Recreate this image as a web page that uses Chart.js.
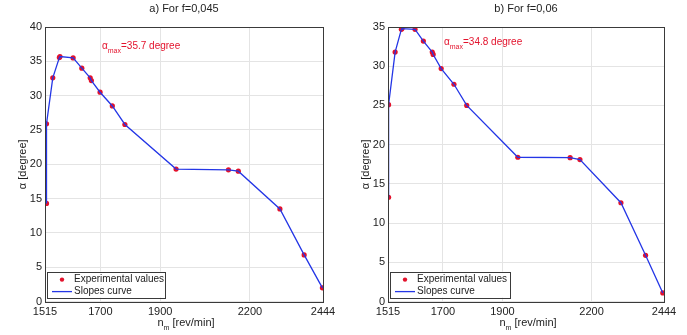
<!DOCTYPE html>
<html><head><meta charset="utf-8">
<script src="https://cdn.jsdelivr.net/npm/chart.js@4.4.1/dist/chart.umd.min.js"></script>
<style>
html,body{margin:0;padding:0;background:#fff;}
#wrap{position:relative;width:687px;height:335px;overflow:hidden;}
.box{position:absolute;top:0;height:335px;}
</style></head><body>
<div id="wrap">
<div class="box" style="left:0;width:343px"><canvas id="c1" width="343" height="335"></canvas></div>
<div class="box" style="left:343px;width:344px"><canvas id="c2" width="344" height="335"></canvas></div>
</div>
<script>
// ---- data ----
const xTicks = [1515, 1700, 1900, 2200, 2444];
const yTicksA = [0, 5, 10, 15, 20, 25, 30, 35, 40];
const yTicksB = [0, 5, 10, 15, 20, 25, 30, 35];
const titleA = 'a) For f=0,045';
const titleB = 'b) For f=0,06';
const seriesNames = ['Experimental values', 'Slopes curve'];
const yTitle = 'α [degree]';
const xTitleMain = 'n';
const xTitleSub = 'm';
const xTitleRest = ' [rev/min]';
const maxA = '=35.7 degree';
const maxB = '=34.8 degree';
const speedA = [1520, 1520, 1541, 1563, 1565, 1609, 1638, 1666, 1670, 1699, 1740, 1782, 1953, 2128, 2161, 2300, 2381, 2442];
const alphaA = [14.3, 25.9, 32.6, 35.55, 35.7, 35.5, 34.0, 32.6, 32.2, 30.5, 28.5, 25.8, 19.3, 19.2, 19.0, 13.5, 6.8, 2.0];
const speedB = [1517, 1517, 1539, 1560, 1562, 1606, 1634, 1664, 1667, 1694, 1737, 1780, 1952, 2128, 2161, 2299, 2382, 2440];
const alphaB = [13.3, 25.1, 31.8, 34.7, 34.8, 34.7, 33.2, 31.8, 31.5, 29.7, 27.7, 25.0, 18.4, 18.35, 18.1, 12.6, 5.9, 1.1];

const FONT = "'Liberation Sans', Arial, sans-serif";
const RED = '#e3122c';
const BLUE = '#2436e6';

function pts(xs, ys) { return xs.map((x, i) => ({x: x, y: ys[i]})); }

const decor = {
  id: 'decor',
  afterDraw(chart, args, o) {
    const ctx = chart.ctx, a = chart.chartArea;
    ctx.save();
    // frame
    ctx.strokeStyle = '#3a3a3a'; ctx.lineWidth = 1;
    ctx.strokeRect(Math.round(a.left) + 0.5, Math.round(a.top) + 0.5, Math.round(a.right - a.left), Math.round(a.bottom - a.top));
    // annotation
    ctx.fillStyle = RED; ctx.textBaseline = 'alphabetic'; ctx.textAlign = 'left';
    let ax = a.left + o.annX, ay = a.top + o.annY;
    ctx.font = '10px ' + FONT;
    ctx.fillText('α', ax, ay);
    ax += ctx.measureText('α').width;
    ctx.font = '7px ' + FONT;
    ctx.fillText('max', ax, ay + 4);
    ax += ctx.measureText('max').width;
    ctx.font = '10px ' + FONT;
    ctx.fillText(o.ann, ax, ay);
    // x title
    ctx.fillStyle = '#222';
    ctx.font = '11px ' + FONT;
    const w1 = ctx.measureText(xTitleMain).width, w3 = ctx.measureText(xTitleRest).width;
    ctx.font = '7px ' + FONT;
    const w2 = ctx.measureText(xTitleSub).width;
    let tx = (a.left + a.right) / 2 - (w1 + w2 + w3) / 2 + 2, ty = 326;
    ctx.font = '11px ' + FONT;
    ctx.fillText(xTitleMain, tx, ty); tx += w1;
    ctx.font = '7px ' + FONT;
    ctx.fillText(xTitleSub, tx, ty + 4); tx += w2;
    ctx.font = '11px ' + FONT;
    ctx.fillText(xTitleRest, tx, ty);
    // legend
    const lx = a.left + 2, lw = o.legW, lh = 26, ly = a.bottom - 30;
    ctx.fillStyle = '#fff'; ctx.fillRect(lx, ly, lw, lh);
    ctx.strokeStyle = '#3a3a3a';
    ctx.strokeRect(Math.round(lx) + 0.5, Math.round(ly) + 0.5, lw, lh);
    ctx.fillStyle = RED;
    ctx.beginPath(); ctx.arc(lx + 15, ly + 8, 2.2, 0, Math.PI * 2); ctx.fill();
    ctx.strokeStyle = BLUE; ctx.lineWidth = 1.3;
    ctx.beginPath(); ctx.moveTo(lx + 5, ly + 20); ctx.lineTo(lx + 25, ly + 20); ctx.stroke();
    ctx.fillStyle = '#222'; ctx.font = '10px ' + FONT; ctx.textBaseline = 'middle';
    ctx.fillText(seriesNames[0], lx + 27, ly + 8);
    ctx.fillText(seriesNames[1], lx + 27, ly + 20);
    ctx.restore();
  }
};

function make(id, title, xs, ys, yTicks, yMax, rightPad, ann, annX, annY, legW) {
  return new Chart(document.getElementById(id), {
    type: 'scatter',
    data: {
      datasets: [
        {label: seriesNames[1], data: pts(xs, ys), showLine: true, borderColor: BLUE, borderWidth: 1.3,
         pointRadius: 0, order: 0},
        {label: seriesNames[0], data: pts(xs, ys), showLine: false, pointRadius: 2.6, pointBorderWidth: 0,
         backgroundColor: RED, borderColor: RED, order: 1}
      ]
    },
    options: {
      responsive: false, animation: false, events: [], devicePixelRatio: 1,
      layout: {padding: {left: 0, right: rightPad, top: 0, bottom: 0}},
      plugins: {
        legend: {display: false}, tooltip: {enabled: false},
        title: {display: true, text: title, fullSize: false, color: '#222',
                font: {family: FONT, size: 11, weight: 'normal', lineHeight: 1.2},
                padding: {top: 2, bottom: 11.8}},
        decor: {ann: ann, annX: annX, annY: annY, legW: legW}
      },
      scales: {
        x: {
          type: 'linear', min: 1515, max: 2444,
          afterBuildTicks: s => { s.ticks = xTicks.map(v => ({value: v})); },
          afterFit: s => { s.height = 33.4; },
          grid: {color: '#e4e4e4', drawTicks: false, tickLength: 0},
          border: {display: false},
          ticks: {color: '#222', padding: 4, maxRotation: 0, autoSkip: false,
                  font: {family: FONT, size: 11}, callback: v => String(v)}
        },
        y: {
          type: 'linear', min: 0, max: yMax,
          afterBuildTicks: s => { s.ticks = yTicks.map(v => ({value: v})); },
          afterFit: s => { s.width = 45; },
          grid: {color: '#e4e4e4', drawTicks: false, tickLength: 0},
          border: {display: false},
          ticks: {color: '#222', padding: 3, font: {family: FONT, size: 11}, callback: v => String(v)},
          title: {display: true, text: yTitle, color: '#222', font: {family: FONT, size: 11},
                  padding: {top: 16.4, bottom: 0}}
        }
      }
    },
    plugins: [decor]
  });
}

make('c1', titleA, speedA, alphaA, yTicksA, 40, 20, maxA, 57, 22, 118);
make('c2', titleB, speedB, alphaB, yTicksB, 35, 23, maxB, 56, 17.5, 120);
</script>
</body></html>
